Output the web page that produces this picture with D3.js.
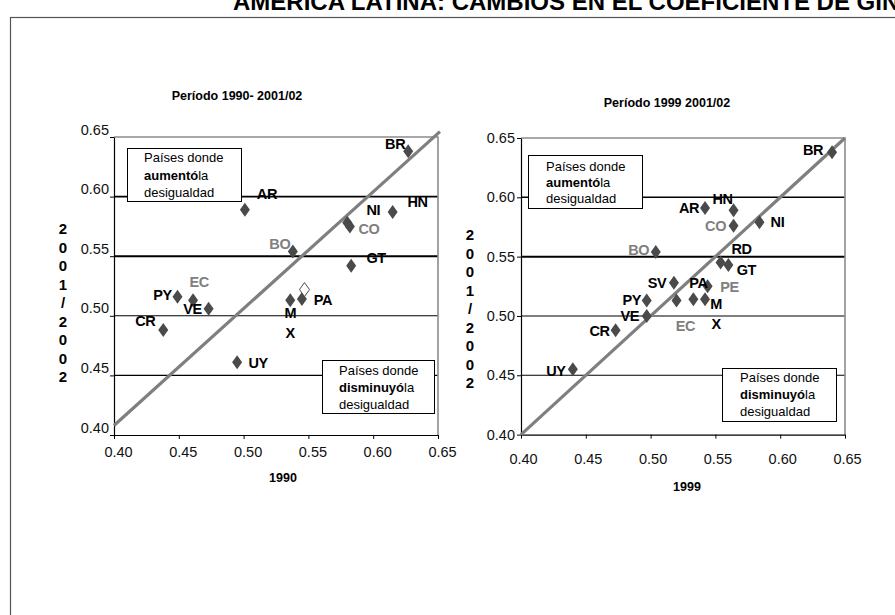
<!DOCTYPE html>
<html><head><meta charset="utf-8">
<script src="https://cdn.jsdelivr.net/npm/d3@7"></script>
<style>body{margin:0;background:#fff}svg{display:block;font-family:Arial,"Liberation Sans",sans-serif}</style>
</head><body>
<svg id="c" width="895" height="615"></svg>
<script>
// ---------- DATA ----------
const titleText = "AMERICA LATINA: CAMBIOS EN EL COEFICIENTE DE GINI";
const tickValues = [0.40, 0.45, 0.50, 0.55, 0.60, 0.65];
const refLines = [0.45, 0.50, 0.55, 0.60];
const yTitleChars = ["2","0","0","1","/","2","0","0","2"];
const greyCodes = ["BO","CO","EC","PE"];

// Chart 1: 1990 (x) vs 2001/02 (y)
const codesA = ["BR","AR","NI","CO","HN","BO","GT","PA","MX","UY","PY","EC","VE","CR"];
const x1990  = [0.627,0.501,0.580,0.582,0.615,0.538,0.583,0.545,0.536,0.495,0.449,0.461,0.473,0.438];
const y2002A = [0.638,0.589,0.578,0.575,0.587,0.554,0.542,0.514,0.513,0.461,0.516,0.513,0.506,0.488];
const hollowA = [[0.547,0.522]];       // open diamond (PA variant)
const diagA = [[0.40,0.408],[0.6515,0.6545]];

// Chart 2: 1999 (x) vs 2001/02 (y)
const codesB = ["BR","HN","AR","CO","NI","RD","GT","BO","SV","PE","PA","MX","EC","PY","VE","CR","UY"];
const x1999  = [0.640,0.564,0.542,0.564,0.584,0.554,0.560,0.504,0.518,0.544,0.533,0.542,0.520,0.497,0.497,0.473,0.440];
const y2002B = [0.638,0.589,0.591,0.576,0.579,0.545,0.543,0.554,0.528,0.525,0.514,0.514,0.513,0.513,0.500,0.488,0.455];
const diagB = [[0.40,0.40],[0.65,0.65]];

// ---------- LAYOUT (label offsets, px) ----------
const offA = {BR:[-13,-8],AR:[22,-16],NI:[26,-13],CO:[19,2],HN:[25,-10],BO:[-13,-8],GT:[25,-8],
  PA:[21,1],MX:[0,12],UY:[21,0],PY:[-15,-2],EC:[6,-19],VE:[-16,0],CR:[-18,-9]};
const offB = {BR:[-19,-2],HN:[-11,-12],AR:[-16,0],CO:[-18,0],NI:[18,0],RD:[21,-14],GT:[18,5],
  BO:[-17,-2],SV:[-17,0],PE:[22,0],PA:[5,-17],MX:[11,4],EC:[9,25],PY:[-15,-1],VE:[-17,0],CR:[-16,1],UY:[-17,1]};

const svg = d3.select("#c");
const DARK = "#4a4a4a", GREY = "#808080";

// outer frame & title
svg.append("rect").attr("x",10.5).attr("y",17.5).attr("width",1000).attr("height",1000)
  .attr("fill","none").attr("stroke","#555").attr("stroke-width",1.2);
svg.append("text").attr("x",233).attr("y",10).attr("font-size",24).attr("font-weight","bold")
  .text(titleText);

function diamond(g, x, y, fill, stroke){
  g.append("path").attr("d",`M${x},${y-7}L${x+5},${y}L${x},${y+7}L${x-5},${y}Z`)
    .attr("fill",fill).attr("stroke",stroke||"none").attr("stroke-width",1);
}

function chart(cfg){
  const g = svg.append("g");
  const x = d3.scaleLinear().domain([0.40,0.65]).range(cfg.xr);
  const y = d3.scaleLinear().domain([0.40,0.65]).range(cfg.yr);
  // reference lines
  refLines.forEach(v=>{
    g.append("line").attr("x1",x(0.40)).attr("x2",x(0.65)).attr("y1",y(v)).attr("y2",y(v))
      .attr("stroke","#000").attr("stroke-width", v===0.55 ? 2 : (v===0.60 ? 1.6 : 1.1));
  });
  // plot border top/right
  g.append("path").attr("d",`M${x(0.40)},${y(0.65)}H${x(0.65)}V${y(0.40)}`)
    .attr("fill","none").attr("stroke","#8c8c8c").attr("stroke-width",1.6);
  // axes
  const ya = g.append("g").attr("transform",`translate(${x(0.40)},0)`)
    .call(d3.axisLeft(y).tickValues(tickValues).tickFormat(d3.format(".2f")).tickSize(4).tickSizeOuter(0).tickPadding(cfg.yPad));
  ya.selectAll("text").attr("font-size",14.5).attr("fill","#111").attr("dy",(0.32)+"em")
    .attr("transform",`translate(0,${cfg.yLabShift})`);
  const xa = g.append("g").attr("transform",`translate(0,${y(0.40)})`)
    .call(d3.axisBottom(x).tickValues(tickValues).tickFormat(d3.format(".2f")).tickSize(4).tickSizeOuter(0).tickPadding(cfg.xPad));
  xa.selectAll("text").attr("font-size",14.5).attr("fill","#111").attr("dx",cfg.xLabShift);
  [ya,xa].forEach(a=>{a.select(".domain").attr("stroke","#000").attr("stroke-width",1.2);
    a.selectAll(".tick line").attr("stroke","#000"); a.attr("font-family",null);});
  // boxes
  cfg.boxes.forEach(b=>{
    g.append("rect").attr("x",b.x+0.5).attr("y",b.y+0.5).attr("width",b.w).attr("height",b.h)
      .attr("fill","#fff").attr("stroke","#000").attr("stroke-width",1);
    const lines = [["Países donde",""],[b.bold,"la"],["desigualdad",""]];
    lines.forEach((l,i)=>{
      const t = g.append("text").attr("x",b.x+b.tx).attr("y",b.ly+i*b.ls).attr("dy","0.35em").attr("font-size",13);
      if(i===1){ t.append("tspan").attr("font-weight","bold").text(l[0]); t.append("tspan").text(l[1]); }
      else t.text(l[0]);
    });
  });
  // diagonal
  g.append("line").attr("x1",x(cfg.diag[0][0])).attr("y1",y(cfg.diag[0][1]))
    .attr("x2",x(cfg.diag[1][0])).attr("y2",y(cfg.diag[1][1]))
    .attr("stroke","#7f7f7f").attr("stroke-width",3.2);
  // points
  cfg.codes.forEach((c,i)=> diamond(g, x(cfg.xs[i]), y(cfg.ys[i]), DARK));
  (cfg.hollow||[]).forEach(p=> diamond(g, x(p[0]), y(p[1]), "#fff", DARK));
  // labels
  cfg.codes.forEach((c,i)=>{
    const o = cfg.off[c], px = x(cfg.xs[i])+o[0], py = y(cfg.ys[i])+o[1];
    const col = greyCodes.includes(c) ? GREY : "#000";
    const parts = c==="MX" ? ["M","X"] : [c];
    parts.forEach((p,k)=>{
      g.append("text").attr("x",px).attr("y",py+k*20).attr("dy","0.36em").attr("text-anchor","middle")
        .attr("font-size",14.5).attr("font-weight","bold").attr("letter-spacing",-0.4).attr("fill",col).text(p);
    });
  });
  // titles
  g.append("text").attr("x",cfg.title.x).attr("y",cfg.title.y).attr("dy","0.35em").attr("text-anchor","middle")
    .attr("font-size",12.5).attr("font-weight","bold").text(cfg.title.t);
  g.append("text").attr("x",cfg.xt.x).attr("y",cfg.xt.y).attr("dy","0.35em").attr("text-anchor","middle")
    .attr("font-size",12.5).attr("font-weight","bold").text(cfg.xt.t);
  yTitleChars.forEach((ch,i)=>{
    g.append("text").attr("x",cfg.yt.x).attr("y",cfg.yt.y+i*18.5).attr("dy","0.36em").attr("text-anchor","middle")
      .attr("font-size",15).attr("font-weight","bold").text(ch);
  });
}

chart({xr:[114,438], yr:[435,137], yPad:1, yLabShift:-7.5, xPad:8, xLabShift:4,
  codes:codesA, xs:x1990, ys:y2002A, hollow:hollowA, off:offA, diag:diagA,
  boxes:[{x:127,y:148,w:114,h:53,tx:17,ly:157.5,ls:17.5,bold:"aumentó"},
         {x:322,y:360,w:112,h:53,tx:17,ly:370,ls:17,bold:"disminuyó"}],
  title:{x:237,y:95.5,t:"Período 1990- 2001/02"}, xt:{x:283,y:478,t:"1990"}, yt:{x:63,y:229}});

chart({xr:[521,845], yr:[434.6,138], yPad:2, yLabShift:0, xPad:15, xLabShift:2,
  codes:codesB, xs:x1999, ys:y2002B, off:offB, diag:diagB,
  boxes:[{x:528,y:155,w:114,h:53,tx:18,ly:166,ls:16.3,bold:"aumentó"},
         {x:722,y:368,w:114,h:53,tx:18,ly:377.5,ls:17,bold:"disminuyó"}],
  title:{x:667,y:103,t:"Período 1999 2001/02"}, xt:{x:687,y:487,t:"1999"}, yt:{x:470,y:235}});
</script>
</body></html>
